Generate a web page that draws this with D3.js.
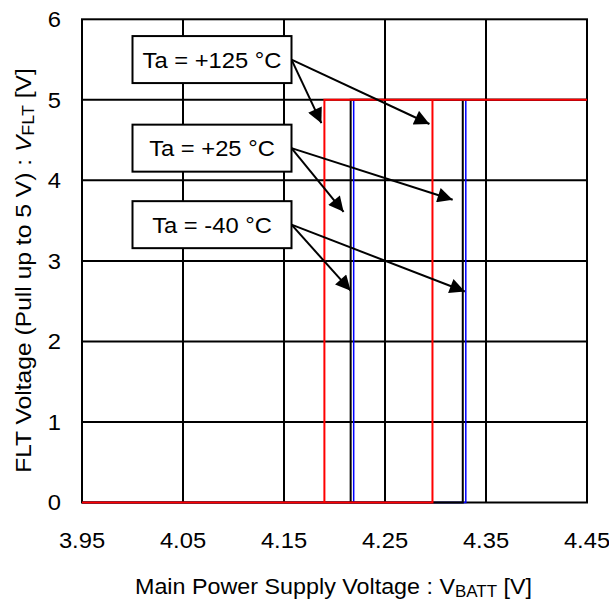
<!DOCTYPE html>
<html>
<head>
<meta charset="utf-8">
<script src="https://cdn.jsdelivr.net/npm/d3@7"></script>
<style>
  html, body { margin: 0; padding: 0; background: #fff; }
  svg text { font-family: "Liberation Sans", Arial, Helvetica, sans-serif; fill: #000; }
</style>
</head>
<body>
<svg id="chart" width="609" height="602"></svg>
<script>
// ---- data ----
const xTicks = [3.95, 4.05, 4.15, 4.25, 4.35, 4.45];
const yTicks = [0, 1, 2, 3, 4, 5, 6];
const seriesNames = ["Ta = +125 °C", "Ta = +25 °C", "Ta = -40 °C"];
const seriesColors = ["#ff0000", "#000000", "#0000ff"];
const riseThreshold = [4.297, 4.327, 4.330];   // FLT goes high (V_BATT rising)
const fallThreshold = [4.190, 4.216, 4.219];   // FLT goes low (V_BATT falling)
const vLow = 0, vHigh = 5;
const vMin = 3.95, vMax = 4.45;
// annotation label anchors (data coords: left x, centre y) and arrow tips
const labelX = [4.0, 4.0, 4.0];
const labelY = [5.5, 4.4, 3.45];
const arrowTipsA = [[4.187, 4.71], [4.209, 3.61], [4.216, 2.63]];
const arrowTipsB = [[4.294, 4.70], [4.317, 3.76], [4.329, 2.62]];

// ---- layout ----
const FONT = '"Liberation Sans", Arial, Helvetica, sans-serif';
const svg = d3.select("#chart");
const m = { left: 82, right: 587, top: 19.3, bottom: 502.5 };
const x = d3.scaleLinear().domain([vMin, vMax]).range([m.left, m.right]);
const y = d3.scaleLinear().domain([0, 6]).range([m.bottom, m.top]);

// grid
const grid = svg.append("g");
grid.selectAll("line.vx").data(xTicks.slice(1, -1)).join("line")
  .attr("x1", d => x(d)).attr("x2", d => x(d))
  .attr("y1", m.top).attr("y2", m.bottom)
  .attr("stroke", "#000").attr("stroke-width", 2);
grid.selectAll("line.hy").data(yTicks.slice(1, -1)).join("line")
  .attr("y1", d => y(d)).attr("y2", d => y(d))
  .attr("x1", m.left).attr("x2", m.right)
  .attr("stroke", "#000").attr("stroke-width", 2);

// frame
svg.append("rect").attr("x", m.left).attr("y", m.top)
  .attr("width", m.right - m.left).attr("height", m.bottom - m.top)
  .attr("fill", "none").attr("stroke", "#000").attr("stroke-width", 2);

// series (hysteresis loops)
const line = d3.line().x(d => x(d[0])).y(d => y(d[1]));
const order = [2, 1, 0];
order.forEach(i => {
  const pts = [
    [vMin, vLow], [riseThreshold[i], vLow], [riseThreshold[i], vHigh], [vMax, vHigh],
    [fallThreshold[i], vHigh], [fallThreshold[i], vLow], [vMin, vLow]
  ];
  svg.append("path").attr("d", line(pts))
    .attr("fill", "none").attr("stroke", seriesColors[i])
    .attr("stroke-width", i === 2 ? 1.5 : 2).attr("stroke-linejoin", "miter");
});

// tick labels (drawn from the scales)
const fmtX = d3.format(".2f");
svg.append("g").selectAll("text").data(xTicks).join("text")
  .attr("transform", d => `translate(${x(d)},548) scale(1.08,1)`)
  .attr("text-anchor", "middle").attr("font-size", 22)
  .style("font-family", FONT).text(d => fmtX(d));

svg.append("g").selectAll("text").data(yTicks).join("text")
  .attr("transform", d => `translate(61,${y(d)}) scale(1.08,1)`)
  .attr("dy", "0.35em")
  .attr("text-anchor", "end").attr("font-size", 22)
  .style("font-family", FONT).text(d => d);

// axis titles
const xt = svg.append("text")
  .attr("transform", `translate(${(m.left + m.right) / 2 - 1},594) scale(1.06,1)`)
  .attr("text-anchor", "middle").attr("font-size", 22);
xt.append("tspan").text("Main Power Supply Voltage : V");
xt.append("tspan").attr("font-size", 16).attr("dy", 3).text("BATT");
xt.append("tspan").attr("dy", -3).text(" [V]");

const yt = svg.append("text")
  .attr("transform", `translate(31,270.5) rotate(-90) scale(1.12,1)`)
  .attr("text-anchor", "middle").attr("font-size", 22);
yt.append("tspan").text("FLT Voltage (Pull up to 5 V) : ");
yt.append("tspan").attr("font-style", "italic").text("V");
yt.append("tspan").attr("font-size", 16).attr("dy", 3).text("FLT");
yt.append("tspan").attr("dy", -3).text(" [V]");

// annotations
const defs = svg.append("defs");
defs.append("marker").attr("id", "ah").attr("viewBox", "0 0 10 10")
  .attr("refX", 10).attr("refY", 5)
  .attr("markerWidth", 9).attr("markerHeight", 7.5)
  .attr("markerUnits", "strokeWidth").attr("orient", "auto")
  .append("path").attr("d", "M0,0 L10,5 L0,10 Z").attr("fill", "#000");

const boxW = 159, boxH = 47;
seriesNames.forEach((name, i) => {
  const bx = x(labelX[i]), by = y(labelY[i]);
  const sx = bx + boxW, sy = by;
  [arrowTipsA[i], arrowTipsB[i]].forEach(t => {
    svg.append("line").attr("x1", sx).attr("y1", sy)
      .attr("x2", x(t[0])).attr("y2", y(t[1]))
      .attr("stroke", "#000").attr("stroke-width", 2)
      .attr("marker-end", "url(#ah)");
  });
  svg.append("rect").attr("x", bx).attr("y", by - boxH / 2)
    .attr("width", boxW).attr("height", boxH)
    .attr("fill", "#fff").attr("stroke", "#000").attr("stroke-width", 2);
  svg.append("text")
    .attr("transform", `translate(${bx + boxW / 2},${by + 8}) scale(1.08,1)`)
    .attr("text-anchor", "middle").attr("font-size", 22).text(name);
});
</script>
</body>
</html>
